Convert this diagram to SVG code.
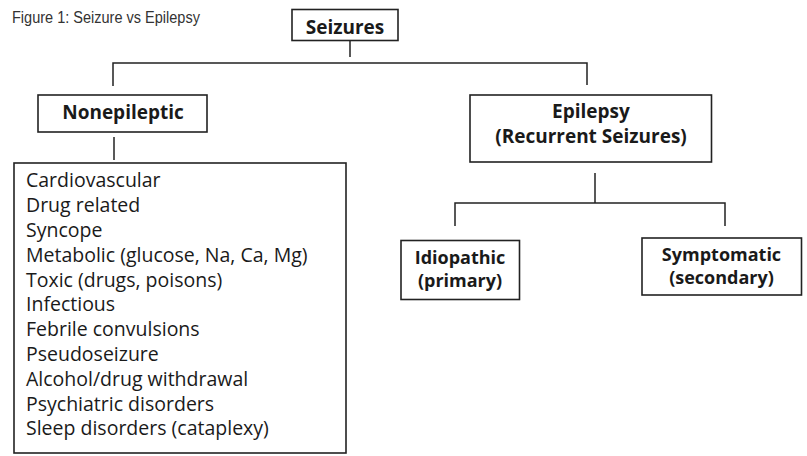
<svg xmlns="http://www.w3.org/2000/svg" width="807" height="456" viewBox="0 0 807 456">
  <style>
    .box { fill: #ffffff; stroke: #222; stroke-width: 1.6; }
    .conn { fill: none; stroke: #222; stroke-width: 1.5; }
    .hd { font-family: "Open Sans", "DejaVu Sans", sans-serif; font-weight: bold; font-size: 19px; fill: #1a1a1a; text-anchor: middle; }
    .sub { font-size: 18px; }
    .item { font-family: "Open Sans", "DejaVu Sans", sans-serif; font-size: 19.5px; fill: #1a1a1a; }
    .title { font-family: "Liberation Sans", Arial, sans-serif; font-size: 16.5px; fill: #333; }
  </style>
  <rect width="807" height="456" fill="#ffffff"/>
  <text class="title" transform="translate(12 22.5) scale(0.88 1)" x="0" y="0">Figure 1: Seizure vs Epilepsy</text>

  <g id="connectors">
    <path class="conn" d="M350 40 V57"/>
    <path class="conn" d="M113 86 V63 H587 V85"/>
    <path class="conn" d="M114 137 V160"/>
    <path class="conn" d="M595 173 V203"/>
    <path class="conn" d="M455 226 V203 H725 V226"/>
  </g>

  <g id="seizures">
    <rect class="box" x="292" y="9.5" width="106" height="31"/>
    <text class="hd" x="345" y="34">Seizures</text>
  </g>

  <g id="nonepileptic">
    <rect class="box" x="38" y="95" width="169" height="37"/>
    <text class="hd" x="123" y="119">Nonepileptic</text>
  </g>

  <g id="epilepsy">
    <rect class="box" x="470" y="95" width="241.5" height="67"/>
    <text class="hd" x="591" y="118">Epilepsy</text>
    <text class="hd" x="591" y="143">(Recurrent Seizures)</text>
  </g>

  <g id="causes">
    <rect class="box" x="14" y="163" width="332" height="290"/>
    <text class="item" x="26" y="187.3">Cardiovascular</text>
    <text class="item" x="26" y="212.1">Drug related</text>
    <text class="item" x="26" y="236.9">Syncope</text>
    <text class="item" x="26" y="261.7">Metabolic (glucose, Na, Ca, Mg)</text>
    <text class="item" x="26" y="286.5">Toxic (drugs, poisons)</text>
    <text class="item" x="26" y="311.3">Infectious</text>
    <text class="item" x="26" y="336.1">Febrile convulsions</text>
    <text class="item" x="26" y="360.9">Pseudoseizure</text>
    <text class="item" x="26" y="385.7">Alcohol/drug withdrawal</text>
    <text class="item" x="26" y="410.5">Psychiatric disorders</text>
    <text class="item" x="26" y="435.3">Sleep disorders (cataplexy)</text>
  </g>

  <g id="idiopathic">
    <rect class="box" x="401" y="240.5" width="118.5" height="59"/>
    <text class="hd sub" x="460" y="264">Idiopathic</text>
    <text class="hd sub" x="460" y="287">(primary)</text>
  </g>

  <g id="symptomatic">
    <rect class="box" x="642" y="238" width="159.5" height="57"/>
    <text class="hd sub" x="721.5" y="261">Symptomatic</text>
    <text class="hd sub" x="721.5" y="284">(secondary)</text>
  </g>
</svg>
